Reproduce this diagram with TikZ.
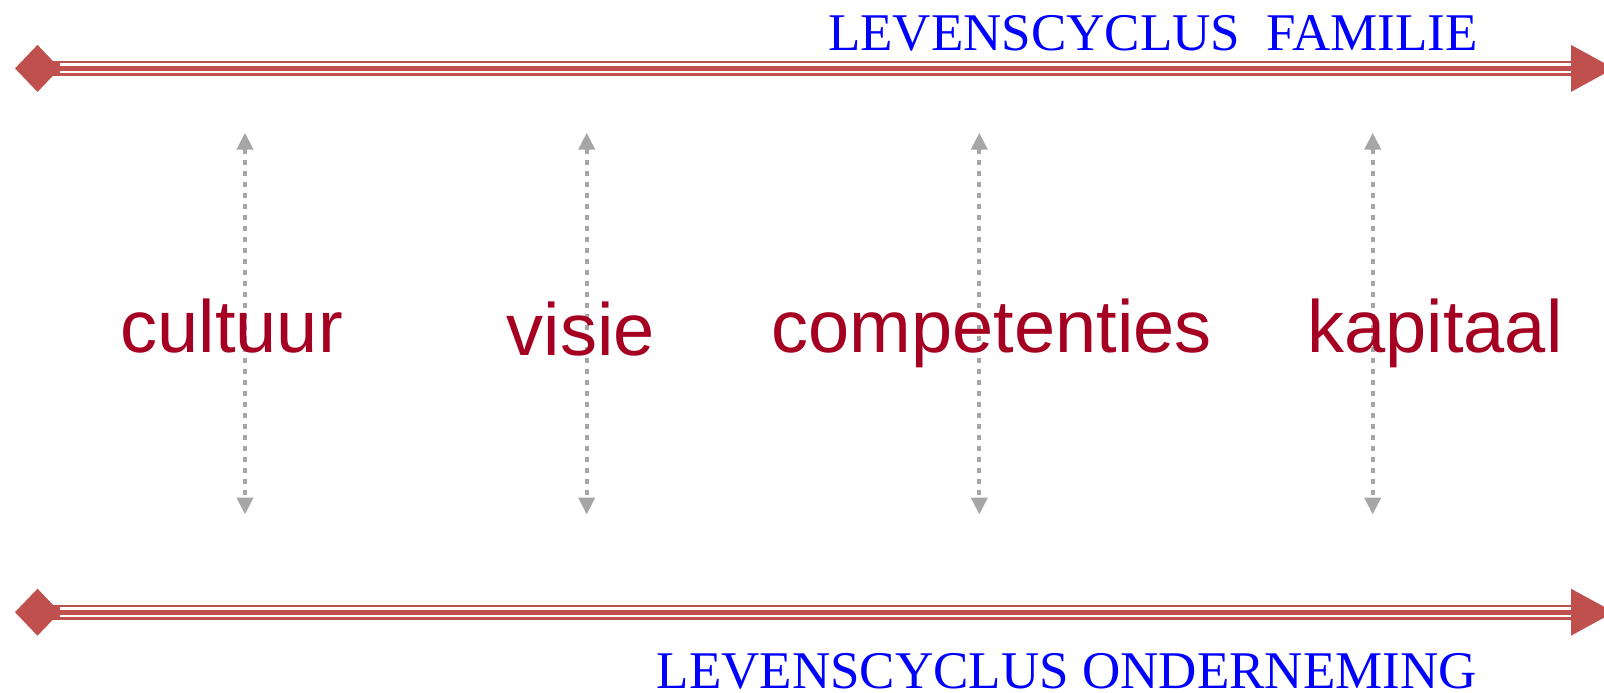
\documentclass[tikz,border=0pt]{standalone}
\usepackage{fontspec}
\setmainfont{Liberation Serif}
\newfontfamily\labelfont{Liberation Sans}
\usetikzlibrary{arrows.meta,calc}
\definecolor{cyclered}{HTML}{C0504D}
\definecolor{linkgray}{HTML}{A6A6A6}
\definecolor{wordred}{HTML}{A50021}
\definecolor{titleblue}{RGB}{0,0,255}
\tikzset{
  x=1pt, y=-1pt,
  cycletitle/.style={font=\fontsize{53}{53}\selectfont, text=titleblue, inner sep=0pt, anchor=base east},
  word/.style={font=\labelfont\fontsize{74}{74}\selectfont, text=wordred, inner sep=0pt, anchor=base},
  link/.style={draw=linkgray, line width=4pt, dash pattern=on 5pt off 6pt,
    {Triangle[length=17pt,width=16pt]}-{Triangle[length=17pt,width=16pt]}},
}
% a life-cycle axis: diamond at the start, triple red line, arrow head at the end
\newcommand{\cycleaxis}[2]{%
  \fill[cyclered] ($(#1)+(-22.5,0)$) -- ($(#1)+(0,-23.5)$) -- ($(#1)+(22.5,0)$) -- ($(#1)+(0,23.5)$) -- cycle;
  \draw[cyclered, line width=14.7pt] (#1) -- ($(#2)+(1,0)$);
  \draw[white, line width=10pt] ($(#1)+(22,0)$) -- ($(#2)+(1,0)$);
  \draw[cyclered, line width=5.3pt] ($(#1)+(20,0)$) -- ($(#2)+(1,0)$);
  \fill[cyclered] ($(#2)+(0,-23.5)$) -- ($(#2)+(43,0)$) -- ($(#2)+(0,23.5)$) -- cycle;
}
\begin{document}
\begin{tikzpicture}
\useasboundingbox (0,0) rectangle (1604,693);

% axis end points
\coordinate (famstart) at (37.5,68.4);
\coordinate (famend)   at (1571,68.4);
\coordinate (ondstart) at (37.5,612.2);
\coordinate (ondend)   at (1571,612.2);

\cycleaxis{famstart}{famend}
\cycleaxis{ondstart}{ondend}

\node[cycletitle] (famtitle) at (1478,51) {LEVENSCYCLUS\ \ FAMILIE};
\node[cycletitle] (ondtitle) at (1477,688.5) {LEVENSCYCLUS ONDERNEMING};

% links between the two cycles
\foreach \n/\xx in {a/245, b/586.7, c/979.3, d/1372.7}{
  \coordinate (\n top) at (\xx,132.7);
  \coordinate (\n bot) at (\xx,514.5);
  \draw[link] (\n top) -- (\n bot);
}

\node[word] (cultuur)      at (231.7,352.7) {cultuur};
\node[word] (visie)        at (580.7,355)   {visie};
\node[word] (competenties) at (991.7,352.7) {competenties};
\node[word] (kapitaal)     at (1435,352.7)  {kapitaal};
\end{tikzpicture}
\end{document}
